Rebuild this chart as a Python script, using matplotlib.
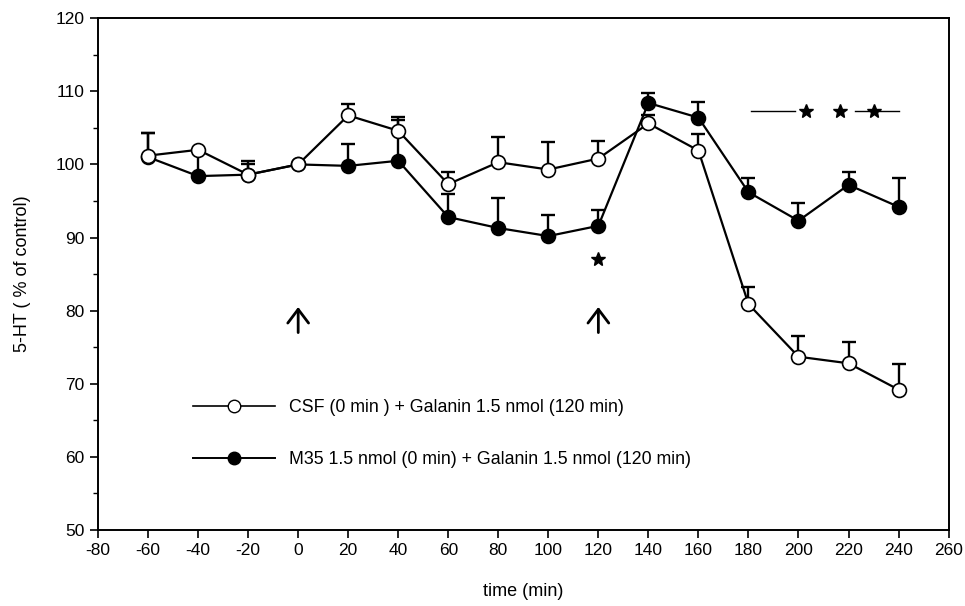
import matplotlib.pyplot as plt
import numpy as np

plt.rcParams['font.family'] = ['Liberation Sans', 'DejaVu Sans']
plt.rcParams['axes.unicode_minus'] = False

# time points (min)
time = [-60, -40, -20, 0, 20, 40, 60, 80, 100, 120, 140, 160, 180, 200, 220, 240]

# CSF + galanin (open circles)
csf_mean = [101.2, 102.0, 98.6, 100.0, 106.7, 104.6, 97.3, 100.3, 99.3, 100.8,
            105.6, 101.9, 80.9, 73.7, 72.8, 69.2]
csf_top = [104.3, 102.0, 100.4, 100.0, 108.3, 106.5, 98.9, 103.7, 103.0, 103.2,
           106.8, 104.1, 83.2, 76.6, 75.7, 72.7]

# M35 + galanin (filled circles)
m35_mean = [101.0, 98.4, 98.6, 100.0, 99.8, 100.5, 92.8, 91.3, 90.2, 91.6,
            108.4, 106.4, 96.2, 92.3, 97.2, 94.2]
m35_top = [104.3, 101.8, 100.0, 100.0, 102.8, 106.1, 95.9, 95.4, 93.1, 93.7,
           109.8, 108.6, 98.2, 94.7, 99.0, 98.2]

labels = ['CSF (0 min ) + Galanin 1.5 nmol (120 min)',
          'M35 1.5 nmol (0 min) + Galanin 1.5 nmol (120 min)']

# injections and significance marks
injections = [0, 120]
star_single = (120, 87.0)
sig_stars_x = [203, 216.5, 230]
sig_y = 107.3
sig_segments = [(181, 198.5), (222.5, 240)]

fig = plt.figure(figsize=(9.65, 6.06), dpi=100)
ax = fig.add_axes([0.1016, 0.1254, 0.8814, 0.8446])

t = np.array(time)
for mean, top, face in [(m35_mean, m35_top, 'black'), (csf_mean, csf_top, 'white')]:
    mean = np.array(mean)
    up = np.array(top) - mean
    ax.errorbar(t, mean, yerr=[np.zeros_like(up), up], fmt='none', ecolor='black',
                elinewidth=1.7, capsize=5, capthick=1.7, zorder=2)
    ax.plot(t, mean, color='black', lw=1.6, marker='o', ms=10, mfc=face,
            mec='black', mew=1.2, zorder=3)

# legend handles
h1, = ax.plot([], [], color='black', lw=1.2, marker='o', ms=9, mfc='white', mec='black')
h2, = ax.plot([], [], color='black', lw=1.4, marker='o', ms=9, mfc='black', mec='black')
ax.legend([h1, h2], labels, loc='upper left', bbox_to_anchor=(0.103, 0.27),
          frameon=False, handlelength=4.6, handletextpad=0.8, labelspacing=2.0,
          fontsize=12.8, borderaxespad=0)

# injection arrows
for x in injections:
    ax.annotate('', xy=(x, 80.5), xytext=(x, 77.0),
                arrowprops=dict(arrowstyle='->,head_width=0.34,head_length=0.45',
                                color='black', lw=2.0, mutation_scale=22,
                                shrinkA=0, shrinkB=0))

# significance
ax.plot([star_single[0]], [star_single[1]], marker='*', ms=10, color='black', ls='none')
for a, b in sig_segments:
    ax.plot([a, b], [sig_y, sig_y], color='black', lw=1.0)
ax.plot(sig_stars_x, [sig_y] * 3, marker='*', ms=10, color='black', ls='none')

ax.set_xlim(-80, 260)
ax.set_ylim(50, 120)
ax.set_xticks(np.arange(-80, 261, 20))
ax.set_yticks(np.arange(50, 121, 10))
ax.set_yticks(np.arange(55, 120, 10), minor=True)
ax.tick_params(axis='both', direction='out', length=6, width=1.2, labelsize=12.5)
ax.tick_params(axis='y', which='minor', direction='out', length=3.5, width=1.0)
for s in ax.spines.values():
    s.set_linewidth(1.4)

ax.set_xlabel('time (min)', fontsize=13, labelpad=18)
ax.set_ylabel('5-HT ( % of control)', fontsize=13, labelpad=18)

fig.savefig('out.png', dpi=100)
